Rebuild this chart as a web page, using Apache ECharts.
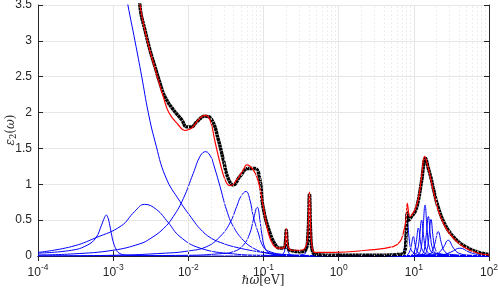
<!DOCTYPE html>
<html><head><meta charset="utf-8">
<script src="https://cdn.jsdelivr.net/npm/echarts@6/dist/echarts.min.js"></script>
<style>html,body{margin:0;padding:0;background:#fff}#c{width:498px;height:292px}</style>
</head><body><div id="c"></div>
<script>
// x values in eV, y values ε2
const blueA = [[1e-4,0.04],[2.8e-4,0.08],[4.5e-4,0.15],[5.9e-4,0.255],[7e-4,0.43],[7.7e-4,0.54],[8.1e-4,0.57],[8.6e-4,0.52],[9.2e-4,0.38],[1.0e-3,0.2],[1.1e-3,0.09],[1.2e-3,0.04],[1.5e-3,0.012],[3e-3,0.003],[1e-2,0],[100,0]];
const blueB = [[1e-4,0.05],[2.77e-4,0.13],[5.9e-4,0.255],[1.28e-3,0.42],[1.93e-3,0.62],[2.62e-3,0.72],[3.75e-3,0.65],[5.37e-3,0.47],[7.74e-3,0.27],[1.43e-2,0.11],[3.9e-2,0.03],[0.1,0.01],[1,0],[100,0]];
const blueC = [[1e-4,0.015],[3e-4,0.03],[1e-3,0.08],[2.27e-3,0.17],[3.09e-3,0.24],[4.65e-3,0.38],[6.31e-3,0.55],[8.57e-3,0.8],[1.16e-2,1.15],[1.45e-2,1.4],[1.7e-2,1.455],[2.0e-2,1.38],[2.15e-2,1.29],[2.64e-2,0.97],[3.23e-2,0.64],[3.97e-2,0.41],[5.38e-2,0.22],[7.31e-2,0.11],[0.11,0.04],[0.2,0.01],[1,0],[100,0]];
const blueD = [[1.4e-3,3.8],[1.57e-3,3.5],[1.95e-3,3.0],[2.4e-3,2.5],[2.93e-3,2.0],[3.6e-3,1.6],[5e-3,1.1],[7.74e-3,0.76],[1.16e-2,0.5],[1.43e-2,0.38],[2e-2,0.25],[3e-2,0.17],[4e-2,0.13],[6.6e-2,0.08],[0.1,0.05],[0.2,0.02],[0.5,0.005],[1,0],[100,0]];
const blueE = [[1e-4,0.001],[1e-3,0.01],[5e-3,0.04],[1e-2,0.07],[1.75e-2,0.13],[2.64e-2,0.27],[3.58e-2,0.46],[4.4e-2,0.69],[5.0e-2,0.83],[5.85e-2,0.9],[6.6e-2,0.78],[7.31e-2,0.55],[8.53e-2,0.32],[9.93e-2,0.13],[0.122,0.06],[0.2,0.015],[0.5,0.002],[1,0],[100,0]];
const blueF = [[1e-4,0.0005],[1e-2,0.01],[2.5e-2,0.03],[3.97e-2,0.06],[5.38e-2,0.15],[6.6e-2,0.32],[7.31e-2,0.5],[8.28e-2,0.68],[8.97e-2,0.5],[9.46e-2,0.32],[0.1047,0.11],[0.122,0.04],[0.2,0.01],[1,0],[100,0]];
const blueG = [[0.1,0],[0.17,0.01],[0.185,0.04],[0.193,0.1],[0.198,0.22],[0.201,0.32],[0.204,0.22],[0.209,0.1],[0.218,0.04],[0.235,0.01],[0.3,0],[100,0]];
const blueH = [[0.2,0],[0.34,0.02],[0.37,0.08],[0.39,0.3],[0.40,0.6],[0.409,0.85],[0.418,0.6],[0.43,0.3],[0.45,0.08],[0.49,0.02],[0.7,0],[100,0]];
const blueP1 = [[1,0],[6.0,0],[6.8,0.02],[7.4,0.08],[7.78,0.25],[7.98,0.42],[8.18,0.50],[8.4,0.40],[8.65,0.25],[9.1,0.1],[9.9,0.045],[12,0.018],[20,0.006],[100,0]];
const blueP2 = [[1,0],[7.5,0],[8.1,0.01],[8.65,0.045],[9.22,0.14],[9.84,0.27],[10.5,0.14],[11.2,0.055],[12.6,0.022],[20,0.006],[100,0]];
const blueP3 = [[1,0],[8.5,0],[9.4,0.015],[10.1,0.055],[10.78,0.2],[11.5,0.39],[12.27,0.2],[13.1,0.075],[14.8,0.028],[25,0.007],[100,0]];
const blueP4 = [[1,0],[9.5,0],[10.4,0.02],[11.15,0.075],[11.9,0.26],[12.7,0.50],[13.55,0.26],[14.5,0.095],[16.4,0.033],[28,0.008],[100,0]];
const blueP5 = [[1,0],[10.5,0],[11.4,0.02],[12.4,0.09],[13.2,0.36],[14.1,0.71],[15.05,0.36],[16.1,0.12],[18.2,0.042],[30,0.011],[100,0]];
const blueP6 = [[1,0],[11.5,0],[12.7,0.02],[13.7,0.075],[14.6,0.28],[15.6,0.55],[16.65,0.28],[17.8,0.1],[20,0.037],[35,0.01],[100,0]];
const blueP7 = [[1,0],[12.5,0],[13.7,0.02],[14.85,0.075],[15.85,0.26],[16.9,0.51],[18.05,0.26],[19.3,0.095],[21.8,0.033],[40,0.009],[100,0]];
const blueP8 = [[1,0],[14,0],[16,0.02],[17.2,0.05],[19.0,0.17],[21.1,0.34],[23.4,0.17],[25.9,0.06],[32,0.02],[60,0.005],[100,0.002]];
const blueP9 = [[1,0],[16,0],[18,0.01],[20,0.02],[24.4,0.11],[28.7,0.22],[33.7,0.11],[39.6,0.04],[55,0.012],[100,0.003]];
const blueP10 = [[1,0],[20,0.005],[25,0.02],[31.2,0.055],[41.1,0.11],[54.2,0.055],[71.4,0.02],[100,0.008]];

const redFit = [[2.1e-3,3.9],[2.27e-3,3.5],[2.85e-3,3.0],[3.8e-3,2.53],[4.65e-3,2.22],[5.5e-3,2.0],[7.34e-3,1.83],[9.0e-3,1.75],[1.1e-2,1.78],[1.23e-2,1.84],[1.45e-2,1.93],[1.67e-2,1.96],[1.94e-2,1.9],[2.26e-2,1.6],[2.64e-2,1.3],[3.12e-2,1.05],[3.58e-2,0.98],[4.4e-2,1.06],[5.38e-2,1.2],[5.97e-2,1.27],[7.31e-2,1.2],[8.53e-2,1.04],[9.93e-2,0.69],[0.116,0.32],[0.135,0.15],[0.157,0.11],[0.18,0.11],[0.19,0.13],[0.196,0.22],[0.201,0.38],[0.206,0.22],[0.213,0.12],[0.24,0.08],[0.3,0.08],[0.35,0.1],[0.38,0.2],[0.395,0.45],[0.409,0.9],[0.422,0.45],[0.44,0.15],[0.484,0.05],[0.849,0.05],[2.36,0.08],[5.33,0.13],[6.54,0.2],[7.24,0.32],[7.87,0.5],[8.18,0.735],[8.89,0.55],[9.5,0.58],[10.4,0.65],[11.5,0.8],[12.7,1.11],[13.9,1.39],[15.6,1.22],[18.1,0.92],[21.1,0.64],[26,0.41],[33.5,0.25],[45.5,0.13],[68.5,0.046],[100,0.015]];

const blackData = [[2.2e-3,3.7],[2.32e-3,3.41],[2.65e-3,3.15],[3.09e-3,2.87],[3.6e-3,2.64],[4.2e-3,2.41],[4.89e-3,2.22],[6.31e-3,2.04],[8.17e-3,1.9],[9.5e-3,1.8],[1.1e-2,1.8],[1.29e-2,1.87],[1.67e-2,1.95],[2.05e-2,1.9],[2.51e-2,1.62],[2.92e-2,1.34],[3.4e-2,1.08],[3.97e-2,0.99],[4.86e-2,1.11],[6.28e-2,1.22],[7.71e-2,1.22],[8.97e-2,1.06],[9.84e-2,0.69],[0.122,0.32],[0.15,0.13],[0.166,0.11],[0.19,0.12],[0.196,0.2],[0.201,0.36],[0.206,0.2],[0.213,0.1],[0.25,0.07],[0.3,0.06],[0.36,0.08],[0.39,0.3],[0.409,0.86],[0.425,0.3],[0.45,0.06],[0.5,0.02],[1,0.01],[3,0.01],[6,0.02],[7.5,0.05],[7.9,0.3],[8.2,0.6],[8.6,0.5],[9.3,0.55],[10.4,0.62],[11.5,0.78],[12.7,1.05],[14.3,1.36],[15.6,1.22],[17,1.08],[18.1,0.95],[21.1,0.68],[26,0.44],[33.5,0.27],[45.5,0.15],[68.5,0.06],[100,0.02]];

const blueCurves = [blueA,blueB,blueC,blueD,blueE,blueF,blueG,blueH,blueP1,blueP2,blueP3,blueP4,blueP5,blueP6,blueP7,blueP8,blueP9,blueP10];
const yTicks = {min:0, max:3.5, interval:0.5};
const xRange = {min:1e-4, max:100};
const xTitle = '{i|ℏω}{r|[eV]}';
const yTitle = '{i|ε}{s|2}{r|(}{i|ω}{r|)}';

const minorX = [];
for (let d=-4; d<2; d++) for (let k=2; k<10; k++) minorX.push({xAxis: k*Math.pow(10,d)});

const axisColor = '#262626';
const series = [];
blueCurves.forEach(c => series.push({type:'line', data:c, symbol:'none', smooth:0.45, lineStyle:{color:'#0000ff', width:1}, z:2, animation:false}));
series.push({type:'line', data:blackData, symbol:'none', smooth:0.45, lineStyle:{color:'#000', width:3.4, type:[3,0.4]}, z:3, animation:false});
series.push({type:'line', data:redFit, symbol:'none', smooth:0.45, lineStyle:{color:'#ff0000', width:1.2}, z:4, animation:false});
series.push({type:'line', data:[], markLine:{silent:true, symbol:'none', label:{show:false}, lineStyle:{color:'#e2e2e2', type:[1.5,2.5], width:0.8}, data:minorX, animation:false}, z:1});

const serifRich = {
  i:{fontFamily:'DejaVu Serif', fontStyle:'italic', fontSize:12, fill:axisColor, color:axisColor},
  r:{fontFamily:'DejaVu Serif', fontSize:12, fill:axisColor, color:axisColor},
  s:{fontFamily:'DejaVu Serif', fontSize:8.5, fill:axisColor, color:axisColor, padding:[6,0,0,0]}
};

const chart = echarts.init(document.getElementById('c'), null, {renderer:'canvas'});
chart.setOption({
  animation:false,
  grid:{left:38, right:9, top:5, bottom:36, outerBoundsMode:'none', containLabel:false},
  graphic:[
    {type:'text', x:263, y:281, silent:true, style:{text:xTitle, rich:serifRich, align:'center', verticalAlign:'middle'}},
    {type:'text', x:11, y:130, rotation:Math.PI/2, silent:true, style:{text:yTitle, rich:serifRich, align:'center', verticalAlign:'middle'}}
  ],
  xAxis:[{type:'log', logBase:10, min:xRange.min, max:xRange.max, splitNumber:6,
    axisLine:{show:true, onZero:false, lineStyle:{color:axisColor, width:1}},
    axisTick:{show:true, inside:true, length:5, lineStyle:{color:axisColor}},
    splitLine:{show:true, lineStyle:{color:'#e6e6e6', width:1}},
    axisLabel:{color:axisColor, margin:7, showMinLabel:true, showMaxLabel:true, hideOverlap:false,
      formatter:v=>'{b|10}{s|'+Math.round(Math.log10(v))+'}',
      rich:{b:{fontFamily:'Liberation Sans', fontSize:12, color:axisColor, verticalAlign:'bottom'}, s:{fontFamily:'Liberation Sans', fontSize:8.5, color:axisColor, verticalAlign:'bottom', padding:[0,0,7,0]}}}},
   {type:'log', logBase:10, min:xRange.min, max:xRange.max, splitNumber:6, position:'top',
    axisLine:{show:true, lineStyle:{color:axisColor, width:1}},
    axisTick:{show:true, inside:true, length:5, lineStyle:{color:axisColor}},
    axisLabel:{show:false}, splitLine:{show:false}}],
  yAxis:[{type:'value', min:yTicks.min, max:yTicks.max, interval:yTicks.interval,
    axisLine:{show:true, lineStyle:{color:axisColor, width:1}},
    axisTick:{show:true, inside:true, length:5, lineStyle:{color:axisColor}},
    splitLine:{show:true, lineStyle:{color:'#e6e6e6', width:1}},
    axisLabel:{color:axisColor, fontFamily:'Liberation Sans', fontSize:12, margin:6}},
   {type:'value', min:yTicks.min, max:yTicks.max, interval:yTicks.interval, position:'right',
    axisLine:{show:true, lineStyle:{color:axisColor, width:1}},
    axisTick:{show:true, inside:true, length:5, lineStyle:{color:axisColor}},
    axisLabel:{show:false}, splitLine:{show:false}}],
  series: series
});
</script></body></html>
